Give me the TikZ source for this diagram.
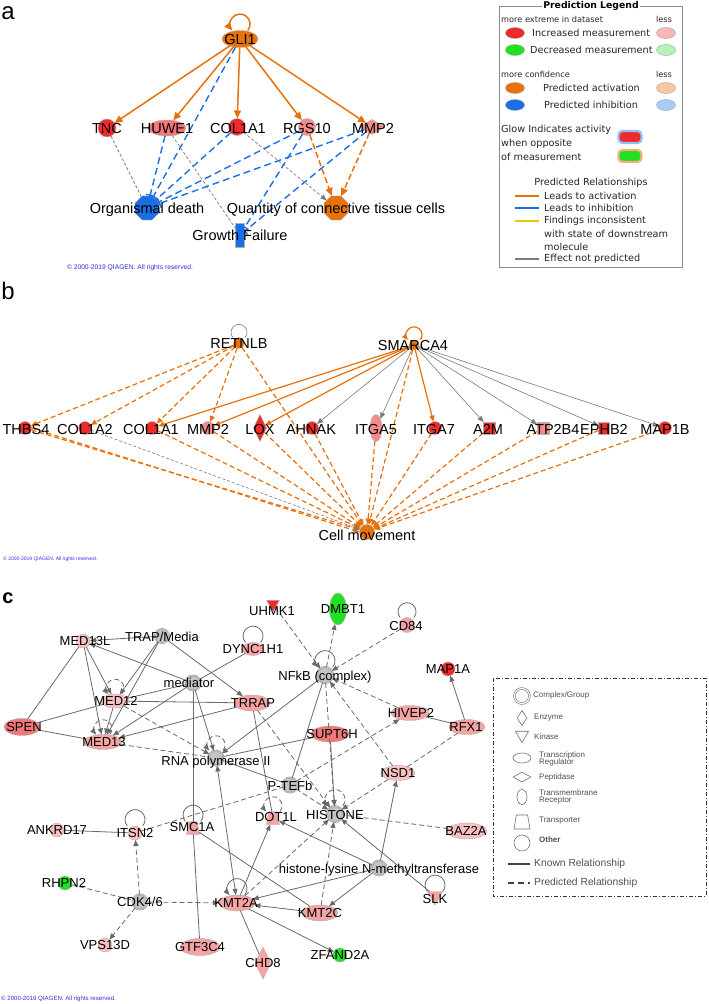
\documentclass[tikz,border=0pt]{standalone}
\usepackage{fontspec}
\setmainfont{Liberation Sans}
\newfontfamily\legf{DejaVu Sans}
\usetikzlibrary{shapes.geometric,arrows.meta}
\definecolor{ora}{HTML}{E8710A}
\definecolor{blu}{HTML}{1A6FE6}
\definecolor{npg}{HTML}{7A7A7A}
\definecolor{redn}{HTML}{EE2B2B}
\definecolor{salm}{HTML}{F07878}
\definecolor{pnk}{HTML}{F5A3A3}
\definecolor{pnka}{HTML}{F28C8C}
\definecolor{lpnk}{HTML}{F8C0C0}
\definecolor{grn}{HTML}{22E022}
\definecolor{gry}{HTML}{C4C4C4}
\definecolor{edg}{HTML}{6A6A6A}
\definecolor{cpy}{HTML}{3030DD}
\definecolor{yel}{HTML}{F5C400}
\definecolor{lred}{HTML}{F7B7B7}
\definecolor{lgrn}{HTML}{B5F2B5}
\definecolor{lora}{HTML}{F8C8A0}
\definecolor{lblu}{HTML}{A8CCF2}
\definecolor{glowb}{HTML}{8FC0F5}
\definecolor{glowo}{HTML}{F5B080}
\definecolor{legt}{HTML}{505050}
\newcommand\sloop[3]{\draw[#1] ([xshift={0.77*#3pt}]#2.north) arc[start angle=40, end angle=-220, radius=#3];}
\tikzset{
 sh/.style={inner sep=0pt, outer sep=0pt, draw=black!30, line width=0.4pt},
 cir/.style={sh, circle, minimum size=#1},
 ell/.style 2 args={sh, ellipse, minimum width=#1, minimum height=#2},
 oct/.style={sh, regular polygon, regular polygon sides=8, minimum size=#1},
 dia/.style 2 args={sh, diamond, minimum width=#1, minimum height=#2},
 kin/.style={sh, regular polygon, regular polygon sides=3, shape border rotate=180, minimum size=#1},
 trp/.style={sh, trapezium, trapezium stretches=true, inner sep=1pt, trapezium left angle=75, trapezium right angle=75, minimum width=#1, minimum height=#1},
 cpx/.style={inner sep=0pt, outer sep=0pt, circle, minimum size=#1, fill=gry, draw=black!40, double=gry, double distance=1pt, line width=0.4pt},
 la/.style={inner sep=0pt, font=\fontsize{14.5}{16}\selectfont, text height=10.4pt, text depth=0pt},
 lc/.style={inner sep=0pt, font=\fontsize{13}{15}\selectfont, text height=9.3pt, text depth=0pt},
 aact/.style={draw=ora, line width=1.5pt, -{Triangle[length=8pt,width=7pt]}},
 aactd/.style={aact, dash pattern=on 6pt off 3pt},
 ainh/.style={draw=blu, line width=1.4pt, dash pattern=on 7pt off 4pt, -{Bar[width=9pt,line width=1.2pt]}},
 anp/.style={draw=npg, line width=0.7pt, dash pattern=on 3pt off 2pt},
 bact/.style={draw=ora, line width=1.2pt, -{Triangle[length=6pt,width=5pt]}},
 bactd/.style={bact, dash pattern=on 5pt off 3pt},
 bnp/.style={draw=npg, line width=0.6pt, -{Triangle[length=6pt,width=5pt]}},
 kn/.style={draw=edg, line width=0.8pt},
 pr/.style={kn, dash pattern=on 5pt off 3pt},
 ar/.style={-{Triangle[length=6pt,width=5pt]}},
 arr/.style={{Triangle[length=6pt,width=5pt]}-{Triangle[length=6pt,width=5pt]}},
 legm/.style={inner sep=0pt, font=\legf\fontsize{9.7}{11}\selectfont, text=black!85},
 legs/.style={inner sep=0pt, font=\legf\fontsize{8.2}{10}\selectfont, text=black!85},
 lgel/.style={sh, ellipse, minimum width=19, minimum height=11, draw=black!35},
 cl/.style={inner sep=0pt, font=\fontsize{8}{8.5}\selectfont, text=legt, anchor=west, align=left},
 clsh/.style={inner sep=0pt, draw=black!55, line width=0.6pt, fill=white},
}
\begin{document}
\begin{tikzpicture}[x=1pt,y=-1pt]
\useasboundingbox (0,0) rectangle (709,1004);
\fill[white] (0,0) rectangle (709,1004);

% ---------------- panel labels
\node[inner sep=0pt, font=\fontsize{24}{24}\selectfont] (pa) at (8,13) {a};
\node[inner sep=0pt, font=\fontsize{24}{24}\selectfont] (pb) at (8,291) {b};
\node[inner sep=0pt, font=\bfseries\fontsize{20}{20}\selectfont] (pc) at (8,598) {c};

% ================= PANEL A =================
\node[sh, ellipse, minimum width=36, minimum height=17, fill=ora] (GLI1) at (240,39) {};
\node[cir=18, fill=redn] (TNC) at (107,128) {};
\node[ell={38}{16}, fill=salm] (HUWE1) at (167,128) {};
\node[cir=17, fill=redn] (COLa) at (237,127) {};
\node[cir=17, fill=pnka] (RGS) at (307,127) {};
\node[dia={26}{15}, fill=pnka] (MMPa) at (372,127) {};
\node[oct=26, fill=blu] (OD) at (147,208) {};
\node[oct=26, fill=ora] (QC) at (336,208) {};
\node[sh, rectangle, minimum width=9, minimum height=24, fill=blu] (GF) at (240,235) {};

\sloop{aact}{GLI1}{10}
\draw[aact] (GLI1) -- (TNC);
\draw[aact] (GLI1) -- (HUWE1);
\draw[aact] (GLI1) -- (COLa);
\draw[aact] (GLI1) -- (RGS);
\draw[aact] (GLI1) -- (MMPa);
\draw[ainh] (GLI1) -- (OD);
\draw[ainh] (HUWE1) -- (OD);
\draw[ainh] (COLa) -- (OD);
\draw[ainh] (RGS) -- (OD);
\draw[ainh] (MMPa) -- (OD);
\draw[ainh] (RGS) -- (GF);
\draw[ainh] (MMPa) -- (GF);
\draw[anp] (TNC) -- (OD);
\draw[anp] (HUWE1) -- (GF);
\draw[anp, -{Triangle[length=6pt,width=5pt]}] (COLa) -- (QC);
\draw[aactd] (RGS) -- (QC);
\draw[aactd] (MMPa) -- (QC);

\node[la] (tGLI1) at (240,39) {GLI1};
\node[la] (tTNC) at (107,128) {TNC};
\node[la] (tHUWE1) at (167,128) {HUWE1};
\node[la] (tCOLa) at (238,128) {COL1A1};
\node[la] (tRGS) at (307,128) {RGS10};
\node[la] (tMMPa) at (373,128) {MMP2};
\node[la] (tOD) at (147,208) {Organismal death};
\node[la] (tQC) at (336,208) {Quantity of connective tissue cells};
\node[la] (tGF) at (240,235) {Growth Failure};
\node[inner sep=0pt, text=cpy, font=\fontsize{6.7}{7}\selectfont] (cpa) at (130,268) {\textcopyright{} 2000-2019 QIAGEN. All rights reserved.};

% ---------------- legend a
\draw[draw=black!45, line width=0.7pt] (499,6) rectangle (682,267);
\node[fill=white, inner sep=1.5pt, font=\legf\bfseries\fontsize{9.3}{11}\selectfont] (lgT) at (591,6) {Prediction Legend};
\node[legs, anchor=west] (lg1) at (501,19) {more extreme in dataset};
\node[legs] (lg2) at (664,19) {less};
\node[lgel, fill=redn] (lg3) at (515,33) {};
\node[legm, anchor=west] (lg4) at (532,33) {Increased measurement};
\node[lgel, fill=lred] (lg5) at (666,33) {};
\node[lgel, fill=grn] (lg6) at (515,50) {};
\node[legm, anchor=west] (lg7) at (530,50) {Decreased measurement};
\node[lgel, fill=lgrn] (lg8) at (666,50) {};
\node[legs, anchor=west] (lg9) at (501,74) {more confidence};
\node[legs] (lg10) at (664,74) {less};
\node[lgel, fill=ora] (lg11) at (515,88) {};
\node[legm, anchor=west] (lg12) at (543,88) {Predicted activation};
\node[lgel, fill=lora] (lg13) at (666,88) {};
\node[lgel, fill=blu] (lg14) at (515,105) {};
\node[legm, anchor=west] (lg15) at (544,105) {Predicted inhibition};
\node[lgel, fill=lblu] (lg16) at (666,105) {};
\node[legm, anchor=west] (lg17) at (501,130) {Glow Indicates activity};
\node[legm, anchor=west] (lg18) at (501,144) {when opposite};
\node[legm, anchor=west] (lg19) at (501,157) {of measurement};
\node[rounded corners=4pt, minimum width=23, minimum height=12, inner sep=0pt, fill=redn, draw=glowb, line width=2.2pt] (lg20) at (630,137) {};
\node[rounded corners=4pt, minimum width=23, minimum height=12, inner sep=0pt, fill=grn, draw=glowo, line width=2.2pt] (lg21) at (630,156) {};
\node[legm] (lg22) at (591,183) {Predicted Relationships};
\draw[ora, line width=1.8pt] (515,196) -- (539,196);
\node[legm, anchor=west] (lg23) at (544,196) {Leads to activation};
\draw[blu, line width=1.8pt] (515,208) -- (539,208);
\node[legm, anchor=west] (lg24) at (544,208) {Leads to inhibition};
\draw[yel, line width=1.8pt] (515,221) -- (539,221);
\node[legm, anchor=west] (lg25) at (544,221) {Findings inconsistent};
\node[legm, anchor=west] (lg26) at (544,234) {with state of downstream};
\node[legm, anchor=west] (lg27) at (544,247) {molecule};
\draw[npg, line width=1.8pt] (515,259) -- (539,259);
\node[legm, anchor=west] (lg28) at (544,259) {Effect not predicted};

% ================= PANEL B =================
\node[cir=11, fill=ora] (RET) at (239,343) {};
\node[cir=10, fill=ora] (SMA) at (414,345) {};
\node[cir=13, fill=redn] (THBS4) at (25,428) {};
\node[cir=13, fill=redn] (COL2b) at (85,428) {};
\node[cir=13, fill=redn] (COL1b) at (152,428) {};
\node[cir=13, fill=pnka] (MMPb) at (208,428) {};
\node[dia={13}{27}, fill=redn] (LOX) at (260,428) {};
\node[cir=13, fill=redn] (AHNAK) at (312,428) {};
\node[ell={12}{27}, fill=pnka] (ITGA5) at (376,428) {};
\node[cir=13, fill=redn] (ITGA7) at (435,428) {};
\node[sh, rectangle, minimum width=12, minimum height=12, fill=redn] (A2M) at (489,428) {};
\node[sh, rectangle, minimum width=12, minimum height=12, fill=pnka] (ATP) at (543,428) {};
\node[sh, rectangle, minimum width=11, minimum height=12, fill=redn] (EPHB2) at (604,428) {};
\node[cir=13, fill=redn] (MAP1B) at (665,428) {};
\node[cir=15, fill=ora] (CM) at (367,532) {};

\sloop{draw=npg, line width=0.6pt}{RET}{8}
\sloop{bact}{SMA}{8}
\draw[bactd] (RET) -- (THBS4);
\draw[bactd] (RET) -- (COL2b);
\draw[bactd] (RET) -- (COL1b);
\draw[bactd] (RET) -- (MMPb);
\draw[bactd] (RET) -- (CM);
\draw[bact] (SMA) -- (COL1b);
\draw[bact] (SMA) -- (MMPb);
\draw[bact] (SMA) -- (LOX);
\draw[bact] (SMA) -- (ITGA7);
\draw[bnp] (SMA) -- (AHNAK);
\draw[bnp] (SMA) -- (ITGA5);
\draw[bnp] (SMA) -- (A2M);
\draw[bnp] (SMA) -- (ATP);
\draw[bnp] (SMA) -- (EPHB2);
\draw[bnp] (SMA) -- (MAP1B);
\draw[bactd] (SMA) -- (CM);
\foreach \n in {THBS4,COL1b,MMPb,LOX,AHNAK,ITGA5,ITGA7,A2M,ATP,EPHB2,MAP1B}
  \draw[bactd] (\n) -- (CM);
\draw[bactd] (THBS4.east) -- (CM.west);
\draw[bnp, dash pattern=on 3pt off 2pt] (COL2b) -- (CM);

\node[la] (tRET) at (239,343) {RETNLB};
\node[la] (tSMA) at (413,345) {SMARCA4};
\node[la] (tTHBS4) at (26,429) {THBS4};
\node[la] (tCOL2b) at (85,429) {COL1A2};
\node[la] (tCOL1b) at (151,429) {COL1A1};
\node[la] (tMMPb) at (208,429) {MMP2};
\node[la] (tLOX) at (260,429) {LOX};
\node[la] (tAHNAK) at (311,429) {AHNAK};
\node[la] (tITGA5) at (376,429) {ITGA5};
\node[la] (tITGA7) at (434,429) {ITGA7};
\node[la] (tA2M) at (488,429) {A2M};
\node[la] (tATP) at (553,429) {ATP2B4};
\node[la] (tEPHB2) at (604,429) {EPHB2};
\node[la] (tMAP1B) at (665,429) {MAP1B};
\node[la] (tCM) at (367,535) {Cell movement};
\node[inner sep=0pt, text=cpy, font=\fontsize{5}{5.5}\selectfont, anchor=west] (cpb) at (3,559) {\textcopyright{} 2000-2019 QIAGEN. All rights reserved.};

% ================= PANEL C =================
\node[cir=14, fill=lpnk] (MED13L) at (83,641) {};
\node[cpx=14] (TRAP) at (162,636) {};
\node[ell={22}{13}, fill=pnk] (DYN) at (253,649) {};
\node[kin=15, fill=redn] (UHMK1) at (273,604) {};
\node[ell={17}{32}, fill=grn] (DMBT1) at (338,609) {};
\node[cir=15, fill=pnk] (CD84) at (407,625) {};
\node[cpx=16] (NFKB) at (325,675) {};
\node[cpx=15] (MEDI) at (193,683) {};
\node[ell={28}{14}, fill=lpnk] (MED12) at (115,701) {};
\node[ell={36}{16}, fill=pnk] (TRRAP) at (252,703) {};
\node[cir=14, fill=redn] (MAP1A) at (448,669) {};
\node[ell={38}{15}, fill=pnk] (HIVEP2) at (410,713) {};
\node[ell={36}{15}, fill=pnk] (RFX1) at (467,727) {};
\node[ell={36}{17}, fill=salm] (SPEN) at (22,727) {};
\node[ell={38}{16}, fill=salm] (SUPT6H) at (330,734) {};
\node[ell={38}{15}, fill=pnk] (MED13) at (103,742) {};
\node[cpx=15] (RNAP) at (216,758) {};
\node[ell={34}{15}, fill=lpnk] (NSD1) at (398,773) {};
\node[cpx=15] (PTEFB) at (290,785) {};
\node[trp=13, fill=pnk] (DOT1L) at (273,818) {};
\node[cpx=16] (HIST) at (335,814) {};
\node[cir=14, fill=lpnk] (ANK) at (57,830) {};
\node[cir=14, fill=lpnk] (ITSN2) at (135,833) {};
\node[trp=13, fill=pnk] (SMC1A) at (193,828) {};
\node[ell={40}{16}, fill=lpnk] (BAZ2A) at (467,831) {};
\node[cpx=15] (HLNM) at (379,868) {};
\node[kin=18, fill=pnk] (SLK) at (435,896) {};
\node[cir=14, fill=grn] (RHPN2) at (65,883) {};
\node[cpx=15] (CDK) at (140,902) {};
\node[ell={36}{16}, fill=pnk] (KMT2A) at (237,903) {};
\node[ell={36}{16}, fill=pnk] (KMT2C) at (320,913) {};
\node[cir=14, fill=lpnk] (VPS) at (105,945) {};
\node[ell={40}{17}, fill=pnk] (GTF) at (200,947) {};
\node[dia={16}{32}, fill=pnk] (CHD8) at (263,963) {};
\node[cir=14, fill=grn] (ZF) at (340,955) {};

% self loops
\sloop{kn}{DYN}{10}
\sloop{kn}{CD84}{9}
\sloop{kn,ar}{NFKB}{10}
\sloop{pr,ar}{MED12}{9}
\sloop{pr,ar}{MED13}{9}
\sloop{pr,ar}{RNAP}{9}
\sloop{pr,ar}{DOT1L}{9}
\sloop{pr,ar}{HIST}{10}
\sloop{kn}{ITSN2}{10}
\sloop{kn}{SMC1A}{10}
\sloop{kn,ar}{KMT2A}{10}
\sloop{kn}{SLK}{10}

% known relationships
\draw[kn,ar] (TRAP) -- (MED13L);
\draw[kn] (MED13L) -- (SPEN);
\draw[kn,ar] (MED13L) -- (MED12);
\draw[kn,ar] (MED13L) -- (MED13);
\draw[kn,ar] (TRAP) -- (MED12);
\draw[kn,ar] (TRAP) -- (MED13);
\draw[kn,ar] (TRAP) -- (TRRAP);
\draw[kn,ar] (MEDI) -- (MED13L);
\draw[kn] (MEDI) -- (MED12);
\draw[kn] (MED12) -- (TRRAP);
\draw[kn,ar] (MEDI) -- (MED13);
\draw[kn,ar] (TRRAP) -- (MED13);
\draw[kn,ar] (MEDI) -- (RNAP);
\draw[kn] (MEDI) -- (SMC1A);
\draw[kn] (SPEN) -- (MED12);
\draw[kn] (SPEN) -- (MED13);
\draw[kn,ar] (MED12) -- (MED13);
\draw[kn] (DYN) -- (MEDI);
\draw[kn,ar] (NFKB) -- (RNAP);
\draw[kn] (TRRAP) -- (DOT1L);
\draw[kn] (RNAP) -- (PTEFB);
\draw[kn] (SUPT6H) -- (RNAP);
\draw[kn] (NFKB) -- (PTEFB);
\draw[kn] (HIVEP2) -- (RFX1);
\draw[kn,ar] (RFX1) -- (MAP1A);
\draw[kn,ar] (HLNM) -- (NSD1);
\draw[kn,ar] (SLK) -- (HIST);
\draw[kn,ar] (HLNM) -- (DOT1L);
\draw[kn,ar] (HLNM) -- (KMT2A);
\draw[kn,ar] (HLNM) -- (KMT2C);
\draw[kn,ar] (KMT2A) -- (DOT1L);
\draw[kn,ar] (KMT2C) -- (KMT2A);
\draw[kn] (SMC1A) -- (KMT2C);
\draw[kn] (KMT2A) -- (CHD8);
\draw[kn,ar] (KMT2A) -- (ZF);
\draw[kn] (ANK) -- (ITSN2);
\draw[kn] (SMC1A) -- (GTF);
\draw[kn,arr] (RNAP) -- (KMT2A);
\draw[kn,ar] (SUPT6H) -- (HIST);

% predicted relationships
\draw[pr,ar] (UHMK1) -- (NFKB);
\draw[pr,ar] (NFKB) -- (DMBT1);
\draw[pr,ar] (CD84) -- (NFKB);
\draw[pr,ar] (HIVEP2) -- (NFKB);
\draw[pr,ar] (NSD1) -- (NFKB);
\draw[pr] (NSD1) -- (RFX1);
\draw[pr,ar] (PTEFB) -- (HIVEP2);
\draw[pr,ar] (NSD1) -- (HIST);
\draw[pr] (BAZ2A) -- (HIST);
\draw[pr,ar] (KMT2C) -- (HIST);
\draw[pr,ar] (KMT2A) -- (HIST);
\draw[pr,ar] (CDK) -- (KMT2A);
\draw[pr,ar] (CDK) -- (ITSN2);
\draw[pr,ar] (CDK) -- (VPS);
\draw[pr] (RHPN2) -- (CDK);
\draw[pr] (ITSN2) -- (PTEFB);
\draw[pr,ar] (PTEFB) -- (HIST);
\draw[pr,ar] (NFKB) -- (HIST);
\draw[pr,ar] (TRRAP) -- (HIST);
\draw[pr,ar] (MED12) -- (RNAP);
\draw[pr] (MED13) -- (RNAP);

% labels
\node[lc] (tMED13L) at (85,641) {MED13L};
\node[lc] (tTRAP) at (162,637) {TRAP/Media};
\node[lc] (tDYN) at (253,649) {DYNC1H1};
\node[lc] (tUHMK1) at (272,611) {UHMK1};
\node[lc] (tDMBT1) at (343,609) {DMBT1};
\node[lc] (tCD84) at (406,626) {CD84};
\node[lc] (tNFKB) at (325,676) {NFkB (complex)};
\node[lc] (tMEDI) at (189,683) {mediator};
\node[lc] (tMED12) at (116,701) {MED12};
\node[lc] (tTRRAP) at (253,703) {TRRAP};
\node[lc] (tMAP1A) at (448,669) {MAP1A};
\node[lc] (tHIVEP2) at (411,713) {HIVEP2};
\node[lc] (tRFX1) at (466,727) {RFX1};
\node[lc] (tSPEN) at (24,727) {SPEN};
\node[lc] (tSUPT6H) at (332,734) {SUPT6H};
\node[lc] (tMED13) at (104,742) {MED13};
\node[lc] (tRNAP) at (216,761) {RNA polymerase II};
\node[lc] (tNSD1) at (398,773) {NSD1};
\node[lc] (tPTEFB) at (290,786) {P-TEFb};
\node[lc] (tDOT1L) at (276,817) {DOT1L};
\node[lc] (tHIST) at (335,815) {HISTONE};
\node[lc] (tANK) at (57,830) {ANKRD17};
\node[lc] (tITSN2) at (135,833) {ITSN2};
\node[lc] (tSMC1A) at (192,827) {SMC1A};
\node[lc] (tBAZ2A) at (466,831) {BAZ2A};
\node[lc] (tHLNM) at (379,869) {histone-lysine N-methyltransferase};
\node[lc] (tSLK) at (435,899) {SLK};
\node[lc] (tRHPN2) at (64,883) {RHPN2};
\node[lc] (tCDK) at (140,902) {CDK4/6};
\node[lc] (tKMT2A) at (236,903) {KMT2A};
\node[lc] (tKMT2C) at (320,913) {KMT2C};
\node[lc] (tVPS) at (105,945) {VPS13D};
\node[lc] (tGTF) at (200,947) {GTF3C4};
\node[lc] (tCHD8) at (263,963) {CHD8};
\node[lc] (tZF) at (340,955) {ZFAND2A};
\node[inner sep=0pt, text=cpy, font=\fontsize{6.1}{6.5}\selectfont, anchor=west] (cpc) at (1,999) {\textcopyright{} 2000-2019 QIAGEN. All rights reserved.};

% ---------------- legend c
\draw[black!80, line width=0.7pt, dash pattern=on 4pt off 2pt on 1pt off 2pt] (493,678) rectangle (706,896);
\node[clsh, circle, minimum size=15, double=white, double distance=1.2pt] (cl1) at (522,696) {};
\node[cl] (clt1) at (533,695) {Complex/Group};
\node[clsh, diamond, minimum width=10, minimum height=15] (cl2) at (522,718) {};
\node[cl] (clt2) at (534,718) {Enzyme};
\node[clsh, regular polygon, regular polygon sides=3, shape border rotate=180, minimum size=15] (cl3) at (522,735) {};
\node[cl] (clt3) at (534,737) {Kinase};
\node[clsh, ellipse, minimum width=18, minimum height=10] (cl4) at (522,758) {};
\node[cl] (clt4) at (539,759) {Transcription\\[-1.5pt]Regulator};
\node[clsh, diamond, minimum width=18, minimum height=10] (cl5) at (522,777) {};
\node[cl] (clt5) at (539,777) {Peptidase};
\node[clsh, ellipse, minimum width=10, minimum height=15] (cl6) at (522,797) {};
\node[cl] (clt6) at (539,797) {Transmembrane\\[-1.5pt]Receptor};
\node[clsh, trapezium, trapezium stretches=true, inner sep=1pt, trapezium left angle=78, trapezium right angle=78, minimum width=16, minimum height=14] (cl7) at (522,822) {};
\node[cl] (clt7) at (539,821) {Transporter};
\node[clsh, circle, minimum size=16] (cl8) at (522,843) {};
\node[cl, font=\bfseries\fontsize{8}{9}\selectfont] (clt8) at (539,840) {Other};
\draw[black!75, line width=1.4pt] (508,864) -- (530,864);
\node[cl, font=\fontsize{10.3}{11}\selectfont] (clt9) at (534,864) {Known Relationship};
\draw[black!75, line width=1.4pt, dash pattern=on 6pt off 4pt] (508,883) -- (530,883);
\node[cl, font=\fontsize{10.3}{11}\selectfont] (clt10) at (534,883) {Predicted Relationship};
\end{tikzpicture}
\end{document}
